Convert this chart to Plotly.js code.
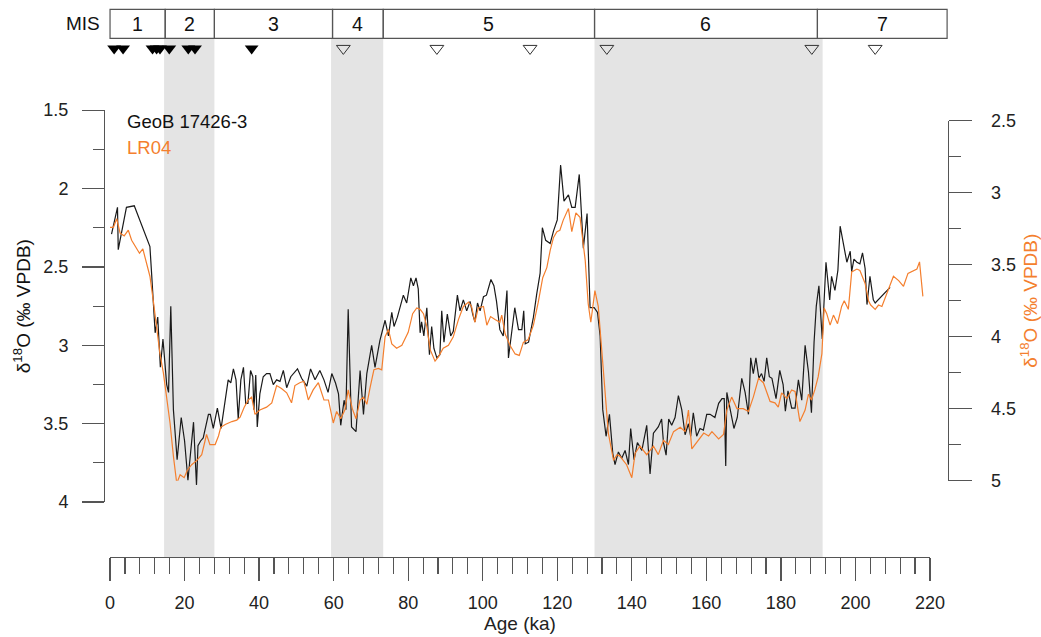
<!DOCTYPE html>
<html>
<head>
<meta charset="utf-8">
<script src="https://cdn.plot.ly/plotly-3.0.1.min.js"></script>
<style>html,body{margin:0;padding:0;background:#fff;}#chart{width:1041px;height:637px;}</style>
</head>
<body>
<div id="chart"></div>
<script>
// ---- Data ----
const geobAge = [0.4,2.0,2.2,4.4,6.5,8.5,9.8,10.7,11.2,12.1,12.8,13.5,14.2,15.2,15.7,16.3,17.0,18.0,19.1,20.0,20.9,22.4,23.2,23.6,24.3,25.0,26.4,26.9,27.7,28.8,29.8,30.9,31.7,32.4,33.1,33.8,34.4,35.1,35.8,36.4,37.0,37.7,38.3,38.6,39.1,39.5,40.2,41.1,42.0,42.9,43.8,44.7,45.6,46.5,47.4,48.5,50.3,51.4,52.8,53.8,55.0,56.3,57.4,58.5,59.5,60.5,61.3,61.9,62.8,63.3,63.9,64.8,66.0,67.1,68.0,68.9,70.2,71.1,72.4,73.8,74.7,75.6,76.2,77.1,78.7,79.6,80.7,81.4,82.1,82.7,83.2,83.6,84.2,85.0,85.7,86.3,86.9,87.7,88.5,89.0,89.6,90.5,91.4,92.1,93.2,93.9,94.8,95.7,96.6,97.3,97.9,98.6,99.3,100.2,101.0,102.2,103.0,103.7,104.6,105.5,106.5,106.9,107.8,108.6,109.6,110.5,111.0,111.4,112.3,113.6,114.5,115.4,116.0,116.9,118.1,119.0,120.0,120.9,121.8,123.0,123.9,124.8,125.9,127.0,128.0,128.8,129.9,130.8,131.5,132.2,133.1,134.0,134.9,135.5,136.4,137.3,138.2,139.1,139.7,140.6,141.5,142.7,144.0,144.9,145.8,147.1,148.0,148.5,149.2,149.9,150.7,151.6,152.5,153.4,154.3,155.2,155.8,156.5,157.4,158.3,159.2,160.1,161.0,162.3,163.3,164.2,164.8,165.2,165.5,166.4,167.4,168.3,169.5,170.4,171.3,171.9,172.6,173.3,174.1,174.8,175.5,176.2,176.9,177.6,178.7,179.7,180.6,181.2,181.9,182.9,183.8,184.7,185.6,186.5,187.4,188.2,188.9,189.5,190.2,191.1,192.1,193.1,193.6,194.5,195.3,195.9,197.7,198.6,199.0,199.6,200.4,201.2,201.9,202.6,203.1,203.9,204.8,205.3,209.3];
const geobD18O = [2.29,2.12,2.39,2.12,2.11,2.23,2.31,2.37,2.56,2.92,2.82,3.14,2.96,3.25,3.30,2.75,3.41,3.73,3.46,3.61,3.86,3.49,3.89,3.64,3.61,3.59,3.44,3.44,3.53,3.40,3.53,3.35,3.22,3.24,3.15,3.22,3.47,3.22,3.14,3.37,3.37,3.16,3.20,3.41,3.19,3.52,3.31,3.20,3.18,3.18,3.25,3.22,3.23,3.16,3.27,3.20,3.15,3.21,3.26,3.15,3.22,3.16,3.22,3.30,3.18,3.24,3.31,3.51,3.35,3.41,2.77,3.52,3.55,3.16,3.44,3.18,3.00,3.14,2.97,2.84,2.94,2.79,2.88,2.82,2.68,2.73,2.57,2.62,2.57,2.64,2.92,2.85,2.94,2.76,3.06,2.88,3.02,3.08,3.06,2.78,2.98,2.80,2.94,2.91,2.68,2.78,2.71,2.78,2.72,2.80,2.85,2.73,2.78,2.69,2.68,2.58,2.62,2.72,2.90,2.94,2.65,3.08,2.91,2.76,2.90,2.90,2.78,2.99,2.98,2.82,2.67,2.54,2.25,2.33,2.35,2.27,2.20,1.85,2.08,2.04,2.12,2.12,1.91,2.38,2.16,2.76,2.76,2.79,2.94,3.41,3.58,3.44,3.69,3.76,3.68,3.72,3.67,3.76,3.53,3.73,3.62,3.67,3.51,3.82,3.56,3.52,3.47,3.62,3.70,3.47,3.51,3.46,3.32,3.41,3.57,3.50,3.58,3.43,3.58,3.53,3.54,3.44,3.44,3.46,3.37,3.34,3.34,3.77,3.30,3.41,3.53,3.46,3.21,3.30,3.44,3.08,3.18,3.08,3.21,3.18,3.23,3.08,3.20,3.21,3.34,3.16,3.25,3.42,3.29,3.40,3.40,3.22,3.35,3.00,3.17,3.43,2.98,2.75,2.62,2.96,2.47,2.71,2.56,2.65,2.52,2.24,2.47,2.40,2.53,2.45,2.47,2.48,2.41,2.51,2.74,2.56,2.71,2.73,2.63];

const lr04Age = [0,0.9,1.8,2.7,3.8,4.9,5.8,7.9,8.8,9.8,10.7,11.6,12.5,13.4,14.3,15.2,16.1,17.0,17.9,18.8,19.9,20.7,21.9,23.3,24.6,25.9,26.8,28.2,29.1,29.7,30.9,32.7,34.0,34.9,36.0,37.1,38.0,38.9,40.2,42.0,43.4,44.7,46.0,47.4,48.7,49.6,50.9,52.0,53.2,54.5,55.9,57.4,58.6,59.9,60.8,61.9,63.0,63.9,65.0,66.0,67.1,68.0,68.9,69.8,70.8,72.0,72.9,73.8,74.7,75.6,76.9,78.3,80.0,81.2,82.3,83.2,84.1,85.0,85.9,87.2,88.1,89.4,90.8,92.1,93.5,94.8,96.2,97.0,97.9,98.8,100.2,101.1,102.1,103.3,104.6,105.1,106.0,107.3,108.7,109.8,110.9,112.2,113.6,114.9,116.1,117.2,118.1,119.0,119.9,120.7,121.6,123.0,123.9,125.0,126.1,127.5,128.3,129.0,130.1,131.0,131.9,132.8,133.7,135.1,136.0,136.8,137.7,138.6,140.0,140.9,142.2,144.0,145.8,147.1,148.5,149.8,151.2,153.0,154.3,155.2,156.1,157.9,159.3,160.6,161.5,163.3,164.6,165.5,166.8,168.2,169.9,171.3,172.6,174.0,175.3,177.1,178.4,179.3,180.2,181.6,182.9,183.8,185.1,186.5,187.4,188.2,189.1,190.0,191.0,191.6,192.3,193.2,194.1,195.2,196.3,197.0,198.1,199.0,200.4,201.2,202.6,203.5,204.1,205.3,206.2,207.1,208.4,210.2,211.6,212.9,214.1,215.6,216.5,217.2,218.1];
const lr04D18O = [3.24,3.24,3.18,3.28,3.30,3.26,3.33,3.42,3.39,3.49,3.58,3.75,3.93,4.12,4.25,4.42,4.60,4.83,5.02,4.96,4.98,4.93,4.89,4.86,4.82,4.68,4.75,4.75,4.69,4.63,4.61,4.59,4.58,4.56,4.49,4.44,4.42,4.54,4.51,4.49,4.46,4.34,4.36,4.39,4.46,4.34,4.32,4.31,4.44,4.37,4.32,4.44,4.44,4.60,4.52,4.57,4.51,4.37,4.50,4.57,4.44,4.42,4.47,4.35,4.23,4.22,4.23,4.00,3.95,4.05,4.08,4.06,3.97,3.84,3.80,3.81,3.84,3.93,4.09,4.17,4.14,4.08,4.06,4.00,3.88,3.79,3.76,3.79,3.90,3.80,3.79,3.92,3.86,3.88,3.90,3.85,3.98,4.06,4.12,4.13,4.04,4.02,3.92,3.76,3.59,3.52,3.40,3.31,3.27,3.26,3.19,3.11,3.27,3.14,3.17,3.47,3.77,3.90,3.68,3.79,4.09,4.37,4.67,4.86,4.82,4.83,4.86,4.89,4.98,4.81,4.76,4.82,4.76,4.82,4.72,4.75,4.66,4.63,4.66,4.51,4.78,4.72,4.67,4.69,4.66,4.71,4.68,4.51,4.42,4.50,4.50,4.52,4.42,4.29,4.32,4.45,4.46,4.49,4.39,4.43,4.37,4.38,4.59,4.51,4.40,4.44,4.37,4.28,4.12,3.80,3.84,3.92,3.85,3.91,3.79,3.75,3.81,3.55,3.53,3.54,3.63,3.75,3.78,3.81,3.78,3.79,3.70,3.58,3.61,3.65,3.56,3.54,3.53,3.48,3.72];

const misLabels = ["1","2","3","4","5","6","7"];
const misBounds = [0,14.8,28,59.7,73.3,130,189.8,224.6];
const bandStart = [14.5,59.3,130];
const bandEnd = [28,73.3,191.2];
const datedAges = [1.1,3.5,11.4,12.5,13.4,15.9,21.0,22.8,38.0];   // filled triangles
const tunedAges = [62.6,87.7,112.7,133.3,188.3,205.3];            // open triangles

// ---- Styling ----
const FONT = "Liberation Sans, Arial, sans-serif";
const AXC = "#555";
const ORANGE = "#f47f2e";
const XDOM = [6/844, 826/844];
const XRANGE = [-0.01, 220.01];
// age -> paper fraction along the x axis (same linear scale as xaxis)
const agePaper = a => XDOM[0] + (a - XRANGE[0]) / (XRANGE[1] - XRANGE[0]) * (XDOM[1] - XDOM[0]);

const shapes = [];
for (let i = 0; i < bandStart.length; i++) {
  shapes.push({type:"rect", xref:"paper", yref:"paper", x0:agePaper(bandStart[i]), x1:agePaper(bandEnd[i]), y0:0, y1:0.9994,
    fillcolor:"#e4e4e4", line:{width:0}, layer:"below"});
}
for (let i = 0; i < misLabels.length; i++) {
  shapes.push({type:"rect", xref:"paper", yref:"paper", x0:agePaper(misBounds[i]), x1:agePaper(misBounds[i+1]), y0:0.9994, y1:1.0553,
    fillcolor:"rgba(0,0,0,0)", line:{color:AXC, width:1.2}});
}

const annotations = [];
for (let i = 0; i < misLabels.length; i++) {
  annotations.push({xref:"paper", yref:"paper", x:agePaper((misBounds[i]+misBounds[i+1])/2), y:1.0273, text:misLabels[i],
    showarrow:false, xanchor:"center", yanchor:"middle", font:{family:FONT, size:19.5, color:"#111"}});
}
annotations.push({xref:"paper", yref:"paper", x:(83-104)/844, y:1.0273, text:"MIS", showarrow:false,
  xanchor:"center", yanchor:"middle", font:{family:FONT, size:19, color:"#111"}});
annotations.push({xref:"paper", yref:"paper", x:(125-104)/844, y:(557-121)/519, text:"GeoB 17426-3", showarrow:false,
  xanchor:"left", yanchor:"middle", font:{family:FONT, size:18.5, color:"#111"}});
annotations.push({xref:"paper", yref:"paper", x:(125-104)/844, y:(557-147)/519, text:"LR04", showarrow:false,
  xanchor:"left", yanchor:"middle", font:{family:FONT, size:18.5, color:ORANGE}});

const traces = [
  {x:geobAge, y:geobD18O, type:"scatter", mode:"lines", name:"GeoB 17426-3", xaxis:"x", yaxis:"y",
   line:{color:"#1a1a1a", width:1.2}, cliponaxis:false, showlegend:false},
  {x:lr04Age, y:lr04D18O, type:"scatter", mode:"lines", name:"LR04", xaxis:"x", yaxis:"y2",
   line:{color:ORANGE, width:1.2}, cliponaxis:false, showlegend:false},
  {x:datedAges, y:datedAges.map(()=>0.5), type:"scatter", mode:"markers", xaxis:"x", yaxis:"y3",
   marker:{symbol:"triangle-down", size:12, color:"#000"}, cliponaxis:false, showlegend:false},
  {x:tunedAges, y:tunedAges.map(()=>0.5), type:"scatter", mode:"markers", xaxis:"x", yaxis:"y3",
   marker:{symbol:"triangle-down-open", size:12, color:"#333", line:{width:1}}, cliponaxis:false, showlegend:false}
];

const tickFont = {family:FONT, size:18, color:"#222"};
const layout = {
  width:1041, height:637,
  margin:{l:104, r:93, t:38, b:80},
  paper_bgcolor:"#fff", plot_bgcolor:"rgba(0,0,0,0)",
  showlegend:false,
  font:{family:FONT},
  xaxis:{domain:XDOM, range:XRANGE, anchor:"free", position:0,
    showline:true, linecolor:AXC, linewidth:1.3, ticks:"outside", ticklen:23, tickwidth:1.3, tickcolor:AXC,
    tick0:0, dtick:20, showgrid:false, zeroline:false, tickfont:tickFont, ticklabelstandoff:6,
    minor:{dtick:4, ticks:"outside", ticklen:16, tickwidth:1.1, tickcolor:AXC, showgrid:false},
    title:{text:"Age (ka)", font:{family:FONT, size:19, color:"#222"}, standoff:4}, automargin:false},
  yaxis:{domain:[(557-502.3)/519, (557-110)/519], range:[4.001,1.499], autorange:false, anchor:"free", position:0, side:"left",
    showline:true, linecolor:AXC, linewidth:1.3, ticks:"outside", ticklen:22, tickwidth:1.3, tickcolor:AXC,
    tick0:1.5, dtick:0.5, showgrid:false, zeroline:false, tickfont:tickFont, ticklabelstandoff:10,
    minor:{dtick:0.25, ticks:"outside", ticklen:11, tickwidth:1.1, tickcolor:AXC, showgrid:false},
    title:{text:"δ<sup>18</sup>O (‰ VPDB)", font:{family:FONT, size:19, color:"#111"}, standoff:6}, automargin:false},
  yaxis2:{domain:[(557-480.7)/519, (557-120.7)/519], range:[5.001,2.499], autorange:false, anchor:"free", position:1, side:"right",
    showline:true, linecolor:AXC, linewidth:1.3, ticks:"outside", ticklen:23, tickwidth:1.3, tickcolor:AXC,
    tick0:2.5, dtick:0.5, showgrid:false, zeroline:false, tickfont:tickFont, ticklabelstandoff:15,
    minor:{dtick:0.25, ticks:"outside", ticklen:12, tickwidth:1.1, tickcolor:AXC, showgrid:false},
    title:{text:"δ<sup>18</sup>O (‰ VPDB)", font:{family:FONT, size:19, color:ORANGE}, standoff:9}, automargin:false},
  yaxis3:{domain:[0.9599, 1.0], range:[0,1], anchor:"x", visible:false, fixedrange:true},
  shapes:shapes,
  annotations:annotations
};

Plotly.newPlot("chart", traces, layout, {displayModeBar:false, staticPlot:true});
</script>
</body>
</html>
